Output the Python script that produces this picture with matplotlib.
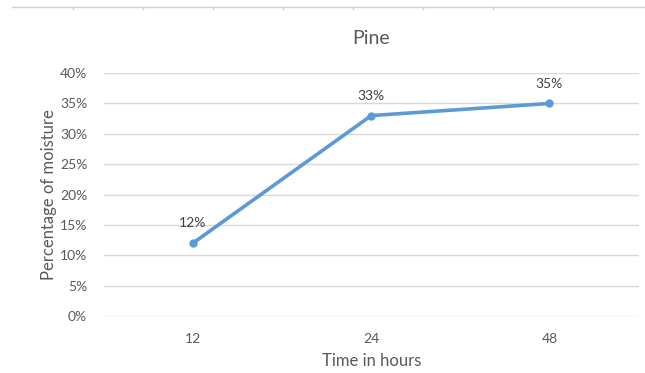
import matplotlib.pyplot as plt
from matplotlib.lines import Line2D
from matplotlib.ticker import PercentFormatter

hours = ['12', '24', '48']
moisture = [12, 33, 35]

text_color = '#595959'
grid_color = '#D9D9D9'
line_color = '#5B9BD5'

plt.rcParams['font.family'] = ['Lato', 'DejaVu Sans']

fig = plt.figure(figsize=(6.45, 3.73), dpi=100)
ax = fig.add_axes([0.161, 0.153, 0.829, 0.651])

x = range(len(hours))
ax.plot(x, moisture, color=line_color, lw=2.6, marker='o', ms=5,
        solid_capstyle='round')
for xi, v in zip(x, moisture):
    ax.annotate('%d%%' % v, (xi, v), xytext=(0, 10), textcoords='offset points',
                ha='center', va='bottom', fontsize=10, color='#404040')

ax.set_xlim(-0.5, len(hours) - 0.5)
ax.set_ylim(0, 40)
ax.set_yticks(range(0, 41, 5))
ax.yaxis.set_major_formatter(PercentFormatter(decimals=0))
ax.set_xticks(list(x))
ax.set_xticklabels(hours)
ax.grid(axis='y', color=grid_color, lw=1)
ax.set_axisbelow(True)
for s in ax.spines.values():
    s.set_visible(False)
ax.tick_params(length=0, colors=text_color, labelsize=10)
ax.tick_params(axis='x', pad=12)
ax.tick_params(axis='y', pad=12)

ax.set_title('Pine', fontsize=14, color=text_color, pad=21)
ax.set_xlabel('Time in hours', fontsize=12, color=text_color, labelpad=6)
ax.set_ylabel('Percentage of moisture', fontsize=12, color=text_color, labelpad=2)

# thin sheet border across the top
y0 = 1 - 7 / 373
fig.add_artist(Line2D([12 / 645, 1], [y0, y0], color='#D0D0D0', lw=1))
for px in [73, 143, 213, 283, 353, 423, 493]:
    fig.add_artist(Line2D([px / 645, px / 645], [y0, y0 - 2 / 373],
                          color='#D0D0D0', lw=1))

fig.savefig('out.png', dpi=100, facecolor='white')
